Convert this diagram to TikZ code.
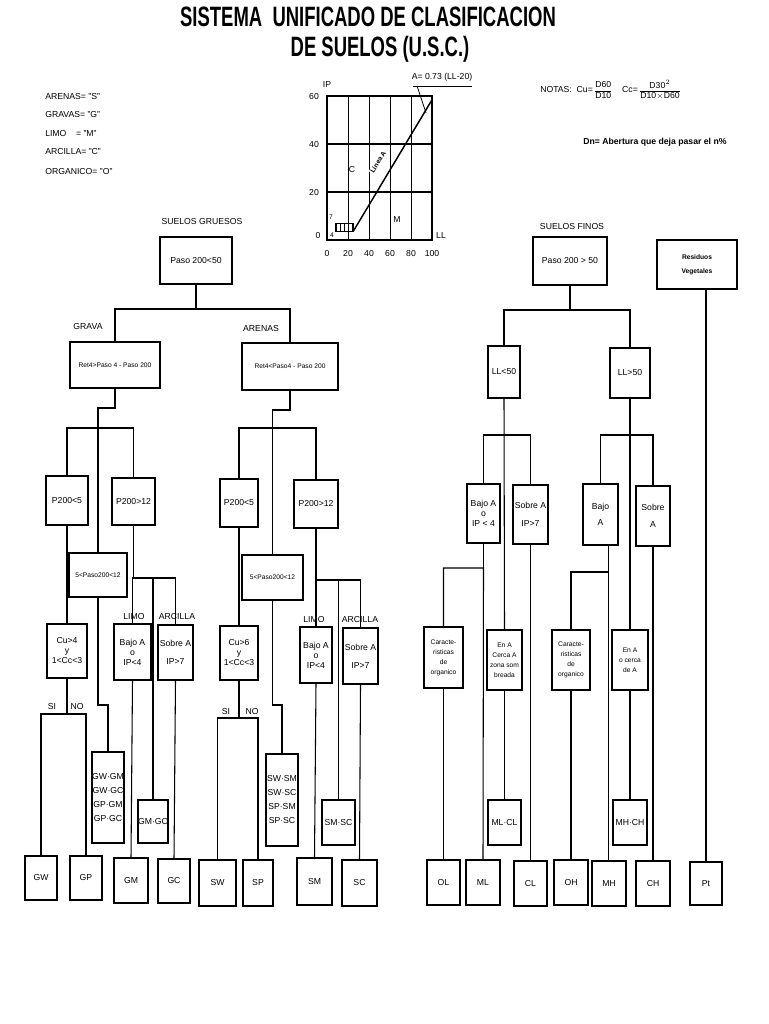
\documentclass[tikz,border=0pt]{standalone}
\usepackage{fontspec}
\setmainfont{Liberation Sans}
\usetikzlibrary{patterns}
\newcommand\fs{\fontsize{6.5}{7.5}\selectfont}
\newcommand\fsm{\fontsize{5}{6}\selectfont}
\newcommand\bx[6]{\node[box,minimum width={(#4-#2)*0.75pt},minimum height={(#5-#3)*0.75pt}] (#1) at ({(#2+#4)/2},{(#3+#5)/2}) {#6};}
\begin{document}
\begin{tikzpicture}[x=0.75pt,y=-0.75pt,
  box/.style={draw,line width=1.2pt,inner sep=0pt,outer sep=0pt,align=center,font=\fs},
  lbl/.style={inner sep=0pt,font=\fs,align=left},
  ln/.style={line width=0.8pt}]
\useasboundingbox[fill=white] (0,0) rectangle (768,1024);
% title
\node[inner sep=0pt,font=\bfseries\fontsize{21}{24}\selectfont] (t1) at (368,17) {\scalebox{0.66}[1]{SISTEMA \ UNIFICADO DE CLASIFICACION}};
\node[inner sep=0pt,font=\bfseries\fontsize{21}{24}\selectfont] (t2) at (380,49) {\scalebox{0.66}[1]{DE SUELOS (U.S.C.)}};
% legend
\node[lbl,anchor=west] (lg1) at (45,97) {ARENAS= "S"};
\node[lbl,anchor=west] (lg2) at (45,115) {GRAVAS= "G"};
\node[lbl,anchor=west] (lg3) at (45,134) {LIMO \ \ \ = "M"};
\node[lbl,anchor=west] (lg4) at (45,152) {ARCILLA= "C"};
\node[lbl,anchor=west] (lg5) at (45,172) {ORGANICO= "O"};
% chart
\draw[line width=0.9pt] (327,96) -- (432,96) -- (432,240) -- (327,240) -- cycle;
\foreach \x in {348,369,390,411} \draw[line width=0.7pt] (\x,96) -- (\x,240);
\foreach \y in {144,192} \draw[line width=0.9pt] (327,\y) -- (432,\y);
\fill[white] (335,223) rectangle (353,231);
\draw[pattern=vertical lines,line width=0.6pt] (335,223) rectangle (353,231);
\draw[line width=1.1pt] (353.8,230.4) -- (432,99.8);
\draw[line width=0.6pt] (413,86) -- (472,86);
\draw[line width=0.6pt] (417,86) -- (426,113);
\node[lbl] (aeq) at (442,77) {A= 0.73 (LL-20)};
\node[lbl,font=\fsm\bfseries,rotate=59,fill=white,inner sep=0.5pt] (linea) at (378,162) {Línea A};
\node[lbl] (cc) at (352,170) {C};
\node[lbl] (mm) at (397,220) {M};
\node[lbl] (ip) at (327,85) {IP};
\node[lbl] (l60) at (314,97) {60};
\node[lbl] (l40) at (314,145) {40};
\node[lbl] (l20) at (314,193) {20};
\node[lbl] (l0) at (318,236) {0};
\node[lbl,font=\fsm] (l7) at (331,217) {7};
\node[lbl,font=\fsm] (l4) at (332,235) {4};
\node[lbl] (ll) at (441,236) {LL};
\foreach \x/\t in {327/0,348/20,369/40,390/60,411/80,432/100} \node[lbl] at (\x,254) {\t};
% notes
\node[lbl,anchor=west] (notas) at (540,91) {NOTAS:\ \ Cu= \begin{tabular}{@{}c@{}}D60\\\hline D10\end{tabular}\quad\ Cc= \begin{tabular}{@{}c@{}}D30$^{2}$\\\hline D10$\times$D60\end{tabular}};
\node[lbl,anchor=west,font=\fs\bfseries] (dn) at (583,142) {Dn= Abertura que deja pasar el n\%};
% ---------- coarse soils ----------
\node[lbl] (sg) at (202,222) {SUELOS GRUESOS};
\bx{gru}{160}{237}{232}{284}{Paso 200{<}50}
\node[lbl] (lgr) at (88,327) {GRAVA};
\node[lbl] (lar) at (261,329) {ARENAS};
\bx{gra}{70}{342}{160}{388}{\fsm Ret4{>}Paso 4 - Paso 200}
\bx{are}{242}{343}{338}{390}{\fsm Ret4{<}Paso4 - Paso 200}
\draw[ln] (gru.south) -- ++(0,25) coordinate (j1);
\draw[ln] (gra.north) |- (j1) -| (are.north);
\coordinate (lvg) at (0,428);
% grava
\bx{gp5}{46}{476}{88}{525}{P200{<}5}
\bx{gp12}{112}{478}{155}{525}{P200{>}12}
\bx{g5}{69}{553}{127}{597}{\fsm 5{<}Paso200{<}12}
\bx{gcu}{47}{624}{87}{678}{Cu{>}4\\y\\1{<}Cc{<}3}
\bx{gba}{114}{624}{151}{680}{Bajo A\\o\\IP{<}4}
\bx{gso}{158}{625}{193}{680}{Sobre A\\[6pt]IP{>}7}
\bx{gmix}{92}{752}{124}{843}{GW·GM\\[3pt]GW·GC\\[3pt]GP·GM\\[3pt]GP·GC}
\bx{gmgc}{138}{800}{168}{843}{GM·GC}
\bx{gw}{25}{856}{57}{900}{GW}
\bx{gpp}{70}{856}{102}{900}{GP}
\bx{gm}{114}{858}{148}{903}{GM}
\bx{gc}{158}{859}{190}{903}{GC}
\draw[ln] (gra.south) -- ++(0,20) -| (g5.north);
\draw[ln] (gp5.north) |- (g5.north |- lvg) -| (gp12.north);
\draw[ln] (gp5.south) -- (gcu.north);
\draw[ln] (gcu.south) -- ++(0,36) coordinate (gsn);
\draw[ln] (gw.north) |- (gsn) -| (gpp.north);
\node[lbl] (gsi) at (52,707) {SI};
\node[lbl] (gno) at (77,707) {NO};
\draw[ln] (g5.south) -- ++(0,108) -| (gmix.north);
\draw[ln] (gp12.south) -- ++(0,53) coordinate (gl);
\draw[ln] (gba.north) |- (gl) -| (gso.north);
\draw[ln] (gmgc.north) -- (gmgc.north |- gl);
\node[lbl] (glimo) at (134,617) {LIMO};
\node[lbl] (garc) at (177,617) {ARCILLA};
\draw[ln] (gba.south) -- (gm.north);
\draw[ln] (gso.south) -- (gc.north);
% arenas
\bx{sp5}{220}{479}{258}{527}{P200{<}5}
\bx{sp12}{294}{480}{338}{528}{P200{>}12}
\bx{s5}{242}{555}{303}{600}{\fsm 5{<}Paso200{<}12}
\bx{scu}{220}{626}{258}{680}{Cu{>}6\\y\\1{<}Cc{<}3}
\bx{sba}{300}{627}{332}{683}{Bajo A\\o\\IP{<}4}
\bx{sso}{343}{628}{378}{684}{Sobre A\\[6pt]IP{>}7}
\bx{smix}{266}{754}{298}{846}{SW·SM\\[3pt]SW·SC\\[3pt]SP·SM\\[3pt]SP·SC}
\bx{smsc}{322}{800}{355}{845}{SM·SC}
\bx{sw}{199}{860}{236}{906}{SW}
\bx{spp}{243}{860}{273}{906}{SP}
\bx{sm}{297}{858}{332}{905}{SM}
\bx{sc}{342}{860}{377}{906}{SC}
\draw[ln] (are.south) -- ++(0,20) -| (s5.north);
\draw[ln] (sp5.north) |- (s5.north |- lvg) -| (sp12.north);
\draw[ln] (sp5.south) -- (scu.north);
\draw[ln] (scu.south) -- ++(0,38) coordinate (ssn);
\draw[ln] (sw.north) |- (ssn) -| (spp.north);
\node[lbl] (ssi) at (226,712) {SI};
\node[lbl] (sno) at (252,712) {NO};
\draw[ln] (s5.south) -- ++(0,105) -| (smix.north);
\draw[ln] (sp12.south) -- ++(0,52) coordinate (sl);
\draw[ln] (sba.north) |- (sl) -| (sso.north);
\draw[ln] (smsc.north) -- (smsc.north |- sl);
\node[lbl] (slimo) at (314,620) {LIMO};
\node[lbl] (sarc) at (360,620) {ARCILLA};
\draw[ln] (sba.south) -- (sm.north);
\draw[ln] (sso.south) -- (sc.north);
% ---------- fine soils ----------
\node[lbl] (sf) at (572,227) {SUELOS FINOS};
\bx{fin}{533}{237}{607}{285}{Paso 200 {>} 50}
\bx{res}{657}{240}{737}{289}{\fsm\bfseries Residuos\\[3pt]\fsm\bfseries Vegetales}
\bx{ll1}{488}{346}{520}{398}{LL{<}50}
\bx{ll2}{610}{348}{650}{398}{LL{>}50}
\draw[ln] (fin.south) -- ++(0,25) coordinate (j2);
\draw[ln] (ll1.north) |- (j2) -| (ll2.north);
\coordinate (lvf) at (0,435);
\bx{fba}{467}{484}{500}{543}{Bajo A\\o\\IP {<} 4}
\bx{fso}{513}{485}{548}{544}{Sobre A\\[6pt]IP{>}7}
\bx{fca}{424}{627}{463}{688}{\fsm Caracte-\\\fsm risticas\\\fsm de\\\fsm organico}
\bx{fen}{487}{630}{522}{690}{\fsm En A\\\fsm Cerca A\\\fsm zona som\\\fsm breada}
\bx{mlcl}{488}{800}{521}{845}{ML·CL}
\bx{ol}{427}{860}{460}{905}{OL}
\bx{ml}{466}{860}{500}{905}{ML}
\bx{cl}{514}{861}{547}{906}{CL}
\draw[ln] (fba.north) |- (ll1.south |- lvf) -| (fso.north);
\draw[ln] (ll1.south) -- (fen.north);
\draw[ln] (fen.south) -- (mlcl.north);
\draw[ln] (fba.south) -- ++(0,25) coordinate (c1);
\draw[ln] (fca.north) |- (c1) -- (ml.north);
\draw[ln] (fca.south) -- (ol.north);
\draw[ln] (fso.south) -- (cl.north);
\bx{hba}{583}{484}{618}{545}{Bajo\\[5pt]A}
\bx{hso}{636}{486}{670}{546}{Sobre\\[5pt]A}
\bx{hca}{552}{630}{590}{690}{\fsm Caracte-\\\fsm risticas\\\fsm de\\\fsm organico}
\bx{hen}{612}{630}{648}{690}{\fsm En A\\\fsm o cerca\\\fsm de A}
\bx{mhch}{613}{800}{647}{845}{MH·CH}
\bx{oh}{554}{860}{588}{905}{OH}
\bx{mh}{592}{861}{626}{906}{MH}
\bx{ch}{636}{861}{670}{906}{CH}
\bx{pt}{690}{862}{722}{905}{Pt}
\draw[ln] (hba.north) |- (ll2.south |- lvf) -| (hso.north);
\draw[ln] (ll2.south) -- (hen.north);
\draw[ln] (hen.south) -- (mhch.north);
\draw[ln] ([xshift=6pt]hba.south) -- ++(0,27) coordinate (c2);
\draw[ln] (hca.north) |- (c2) -- (c2 |- mh.north);
\draw[ln] (hca.south) -- (oh.north);
\draw[ln] (hso.south) -- (ch.north);
\draw[ln] (res.south -| pt.north) -- (pt.north);
\end{tikzpicture}
\end{document}
